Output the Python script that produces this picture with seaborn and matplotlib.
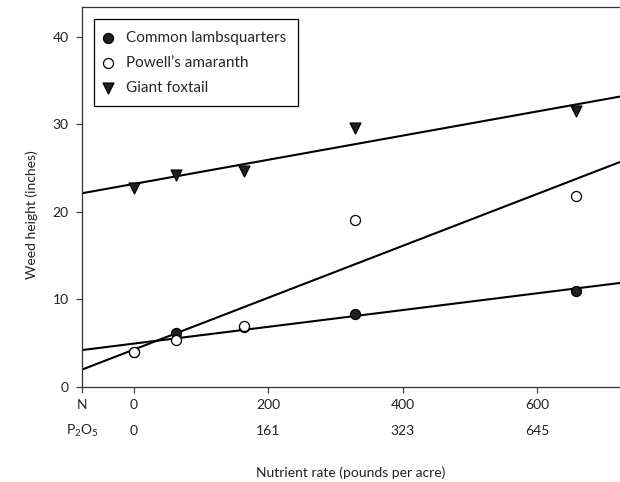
import numpy as np
import pandas as pd
import matplotlib
matplotlib.use("Agg")
import matplotlib.pyplot as plt
import matplotlib.transforms as mtransforms
import seaborn as sns

# nutrient rate (N scale) where the samples sit
rate = [0, 63, 164, 329, 657]

lambsquarters = [4.0, 6.2, 6.9, 8.3, 11.0]
amaranth = [4.0, 5.4, 7.0, 19.1, 21.8]
foxtail = [22.7, 24.2, 24.7, 29.6, 31.5]

n_ticks = [0, 200, 400, 600]
n_labels = ["0", "200", "400", "600"]
p_labels = ["0", "161", "323", "645"]

sns.set_style("ticks")
plt.rcParams["font.family"] = ["Lato", "DejaVu Sans"]
plt.rcParams["mathtext.default"] = "regular"

dark = "#231f20"

fig = plt.figure(figsize=(6.2, 4.82), dpi=100)
ax = fig.add_axes([82 / 620, 1 - 387 / 482, 538 / 620, 380 / 482])
ax.set_xlim(-77, 723)
ax.set_ylim(0, 43.4)

series = [
    ("Common lambsquarters", lambsquarters, "o", dark, 52),
    ("Powell\u2019s amaranth", amaranth, "o", "white", 52),
    ("Giant foxtail", foxtail, "v", dark, 62),
]

for name, vals, mk, fc, size in series:
    df = pd.DataFrame({"rate": rate, "height": vals})
    # fitted line runs across the whole axis (truncate=False)
    sns.regplot(data=df, x="rate", y="height", ax=ax, scatter=False, ci=None,
                truncate=False, line_kws={"color": "black", "lw": 1.5, "zorder": 2})
    sns.scatterplot(data=df, x="rate", y="height", ax=ax, marker=mk, s=size,
                    color=fc, edgecolor="black", linewidth=0.9, zorder=3,
                    label=name)

ax.set_xlim(-77, 723)
ax.set_ylim(0, 43.4)

ax.set_xticks([-77] + n_ticks)
ax.set_xticklabels(["N"] + n_labels)
ax.set_yticks([0, 10, 20, 30, 40])
ax.tick_params(axis="both", labelsize=10, length=4.5, width=0.9, color="#444444",
               labelcolor="#222222")
ax.tick_params(axis="x", pad=4)
ax.tick_params(axis="y", pad=5)

# second row of labels: P2O5 rates
trans = mtransforms.blended_transform_factory(ax.transData, ax.transAxes)
ax.text(-77, -0.116, "P$_2$O$_5$", transform=trans, ha="center", va="center",
        fontsize=10, color="#222222")
for xt, lab in zip(n_ticks, p_labels):
    ax.text(xt, -0.116, lab, transform=trans, ha="center", va="center",
            fontsize=10, color="#222222")

ax.set_xlabel("Nutrient rate (pounds per acre)", fontsize=10, color="#222222")
ax.xaxis.set_label_coords(0.5, -0.209)
ax.set_ylabel("Weed height (inches)", fontsize=10, color="#222222")
ax.yaxis.set_label_coords(-0.082, 0.4526)

for side in ["left", "bottom", "top"]:
    ax.spines[side].set_color("#333333")
    ax.spines[side].set_linewidth(0.9)
ax.spines["right"].set_visible(False)

leg = ax.legend(loc="upper left", bbox_to_anchor=(0.0223, 0.9676), frameon=True,
                fancybox=False, edgecolor="black", fontsize=11, handletextpad=1.0,
                borderpad=0.75, labelspacing=0.72, handlelength=0.35,
                borderaxespad=0)
leg.get_frame().set_linewidth(0.9)
leg.get_frame().set_alpha(1)

fig.savefig("out.png", dpi=100)
